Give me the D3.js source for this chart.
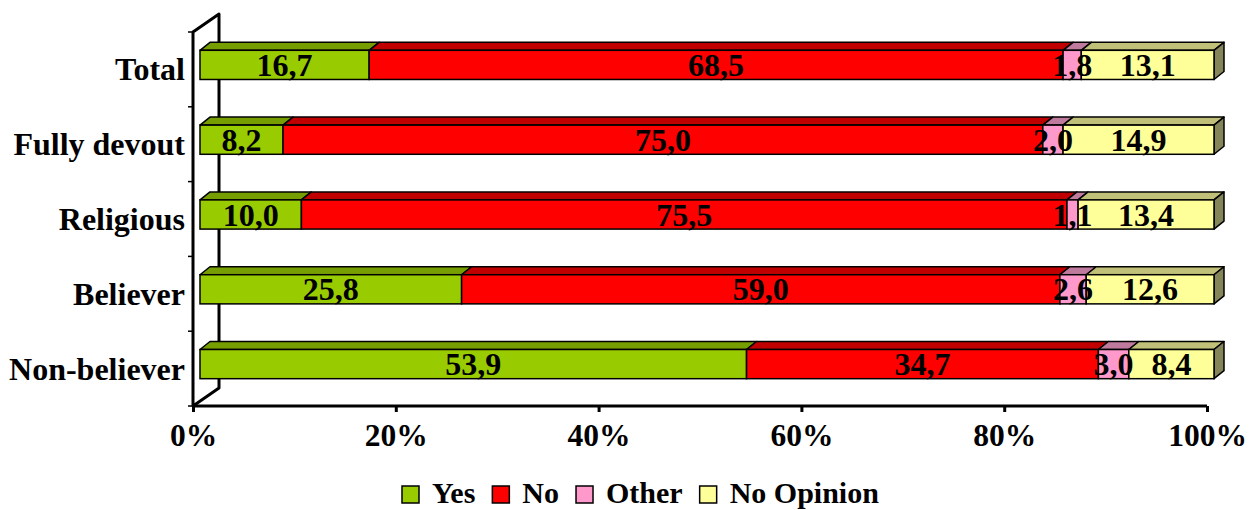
<!DOCTYPE html>
<html>
<head>
<meta charset="utf-8">
<script src="https://cdn.jsdelivr.net/npm/d3@7"></script>
<style>
  body { margin: 0; background: #fff; }
  text { font-family: "Liberation Serif", "Times New Roman", serif; font-weight: bold; }
</style>
</head>
<body>
<div id="canvas"></div>
<script>
// chart data
var categories = ['Total', 'Fully devout', 'Religious', 'Believer', 'Non-believer']
var seriesNames = ['Yes', 'No', 'Other', 'No Opinion']
var yesVals = [16.7, 8.2, 10.0, 25.8, 53.9]
var noVals = [68.5, 75.0, 75.5, 59.0, 34.7]
var otherVals = [1.8, 2.0, 1.1, 2.6, 3.0]
var noOpVals = [13.1, 14.9, 13.4, 12.6, 8.4]
var xTicks = [0, 0.2, 0.4, 0.6, 0.8, 1]

var frontCols = ['#99CC00', '#FF0000', '#FF99CC', '#FFFF99']
var topCols = ['#779E00', '#C00000', '#C07A9E', '#C0C078']
var sideCol = '#85855A'

var W = 1254, H = 510
var svg = d3.select('#canvas').append('svg')
    .attr('width', W)
    .attr('height', H)

var x = d3.scaleLinear().domain([0, 1]).range([193, 1207])
var y = d3.scaleBand().domain(categories).range([32, 406])
    .paddingInner(0.61).paddingOuter(0.305)
var yBand = d3.scaleBand().domain(categories).range([32, 406])

// 3d offsets
var wallDx = 26, wallDy = -18
var barOx = 7, barOy = -4.5
var depthX = 10, depthY = -8

// wall
var wall = svg.append('g').attr('stroke', '#000').attr('stroke-width', 3).attr('fill', 'none')
wall.append('path')
    .attr('d', 'M' + x(0) + ',' + 406 + ' L' + x(0) + ',' + 32 +
        ' L' + (x(0) + wallDx) + ',' + (32 + wallDy) +
        ' L' + (x(0) + wallDx) + ',' + (406 + wallDy) + ' Z')
    .attr('stroke-linejoin', 'round')

// category ticks on left
var bounds = categories.map(function(c) { return yBand(c) }).concat([406])
wall.selectAll('line.ytick').data(bounds).enter().append('line')
    .attr('class', 'ytick')
    .attr('x1', x(0) - 5).attr('x2', x(0))
    .attr('y1', function(d) { return d }).attr('y2', function(d) { return d })
    .attr('stroke-width', 1.5)

// x axis
var xAxis = svg.append('g').attr('transform', 'translate(0,406)')
    .call(d3.axisBottom(x).tickValues(xTicks).tickSize(6).tickPadding(12)
        .tickFormat(function(d) { return Math.round(d * 100) + '%' }))
xAxis.select('.domain').attr('stroke', '#000').attr('stroke-width', 3)
    .attr('d', 'M' + x(0) + ',0H' + x(1))
xAxis.selectAll('.tick line').attr('stroke', '#000').attr('stroke-width', 3)
xAxis.selectAll('.tick text')
    .attr('font-size', 31.5)
    .attr('font-family', '"Liberation Serif", serif')
    .attr('font-weight', 'bold')
    .attr('fill', '#000')
    .attr('dy', '0.7em')

// category labels
svg.append('g').selectAll('text').data(categories).enter().append('text')
    .attr('x', 185)
    .attr('y', function(d) { return yBand(d) + yBand.bandwidth() / 2 + 11 })
    .attr('text-anchor', 'end')
    .attr('font-size', 32)
    .text(function(d) { return d })

// stacked rows
var seriesVals = [yesVals, noVals, otherVals, noOpVals]
var rows = categories.map(function(c, i) {
    var total = d3.sum(seriesVals, function(s) { return s[i] })
    var acc = 0
    return seriesVals.map(function(s, k) {
        var seg = { cat: c, k: k, v: s[i], x0: acc / total }
        acc += s[i]
        seg.x1 = acc / total
        return seg
    })
})

var fmt = function(v) { return v.toFixed(1).replace('.', ',') }
var bars = svg.append('g')
rows.forEach(function(row) {
    var g = bars.append('g')
    row.forEach(function(s) {
        var xa = x(s.x0) + barOx, xb = x(s.x1) + barOx
        var yt = y(s.cat) + barOy, yb = yt + y.bandwidth()
        g.append('path')
            .attr('d', 'M' + xa + ',' + yt + 'L' + (xa + depthX) + ',' + (yt + depthY) +
                'L' + (xb + depthX) + ',' + (yt + depthY) + 'L' + xb + ',' + yt + 'Z')
            .attr('fill', topCols[s.k]).attr('stroke', '#000').attr('stroke-width', 1.5)
            .attr('stroke-linejoin', 'round')
        if (s.k === seriesNames.length - 1) {
            g.append('path')
                .attr('d', 'M' + xb + ',' + yt + 'L' + (xb + depthX) + ',' + (yt + depthY) +
                    'L' + (xb + depthX) + ',' + (yb + depthY) + 'L' + xb + ',' + yb + 'Z')
                .attr('fill', sideCol).attr('stroke', '#000').attr('stroke-width', 1.5)
                .attr('stroke-linejoin', 'round')
        }
        g.append('rect')
            .attr('x', xa).attr('y', yt)
            .attr('width', xb - xa).attr('height', yb - yt)
            .attr('fill', frontCols[s.k]).attr('stroke', '#000').attr('stroke-width', 1.5)
    })
    row.forEach(function(s) {
        var xa = x(s.x0) + barOx, xb = x(s.x1) + barOx
        var yc = y(s.cat) + barOy + y.bandwidth() / 2
        g.append('text')
            .attr('x', (xa + xb) / 2)
            .attr('y', yc + 11)
            .attr('text-anchor', 'middle')
            .attr('font-size', 32)
            .text(fmt(s.v))
    })
})

// legend
var legend = svg.append('g')
var lx = 402
seriesNames.forEach(function(n, k) {
    legend.append('rect')
        .attr('x', lx).attr('y', 486).attr('width', 17).attr('height', 17)
        .attr('fill', frontCols[k]).attr('stroke', '#000').attr('stroke-width', 1.5)
    var t = legend.append('text')
        .attr('x', lx + 30).attr('y', 503)
        .attr('font-size', 30)
        .text(n)
    lx += 30 + t.node().getComputedTextLength() + 17
})
</script>
</body>
</html>
